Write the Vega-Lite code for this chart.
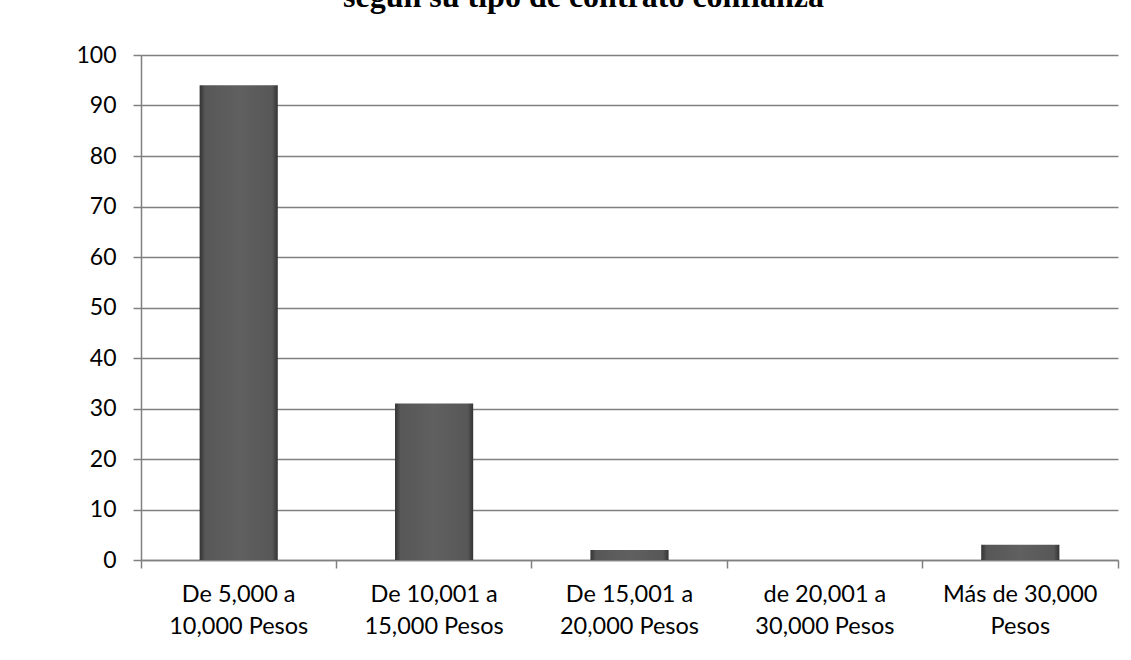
{
  "$schema": "https://vega.github.io/schema/vega-lite/v6.json",
  "autosize": {"type": "none"},
  "width": 977,
  "height": 505,
  "padding": {"top": 55, "left": 141, "right": 13, "bottom": 100},
  "background": "white",
  "title": {
    "text": "según su tipo de contrato confianza",
    "font": "Liberation Serif",
    "fontSize": 32,
    "fontWeight": "bold",
    "color": "black",
    "anchor": "middle",
    "frame": "group",
    "dx": -46,
    "baseline": "alphabetic",
    "offset": 5
  },
  "data": {
    "values": [
      {"rango": "De 5,000 a 10,000 Pesos", "valor": 94},
      {"rango": "De 10,001 a 15,000 Pesos", "valor": 31},
      {"rango": "De 15,001 a 20,000 Pesos", "valor": 2},
      {"rango": "de 20,001 a 30,000 Pesos", "valor": 0},
      {"rango": "Más de 30,000 Pesos", "valor": 3}
    ]
  },
  "resolve": {"axis": {"x": "independent"}},
  "layer": [
    {
      "mark": {
        "type": "bar",
        "width": {"band": 0.4},
        "color": {
          "gradient": "linear",
          "x1": 0, "x2": 1, "y1": 0, "y2": 0,
          "stops": [
            {"offset": 0, "color": "#333333"},
            {"offset": 0.07, "color": "#575757"},
            {"offset": 0.5, "color": "#606060"},
            {"offset": 0.93, "color": "#575757"},
            {"offset": 1, "color": "#333333"}
          ]
        }
      },
      "encoding": {
        "x": {
          "field": "rango",
          "type": "nominal",
          "sort": null,
          "scale": {"paddingInner": 0, "paddingOuter": 0},
          "axis": {
            "title": null,
            "orient": "bottom",
            "labelAngle": 0,
            "ticks": false,
            "domain": true,
            "domainColor": "#808080",
            "domainWidth": 1.5,
            "labelFont": "Lato",
            "labelFontSize": 23.5,
            "labelColor": "black",
            "labelLineHeight": 32,
            "labelPadding": 22,
            "labelLimit": 300,
            "labelExpr": "indexof(datum.value,' a ') > 0 ? [slice(datum.value,0,indexof(datum.value,' a ')+2), slice(datum.value,indexof(datum.value,' a ')+3)] : [slice(datum.value,0,lastindexof(datum.value,' ')), slice(datum.value,lastindexof(datum.value,' ')+1)]"
          }
        },
        "y": {
          "field": "valor",
          "type": "quantitative",
          "scale": {"domain": [0, 100], "nice": false},
          "axis": {
            "title": null,
            "values": [0, 10, 20, 30, 40, 50, 60, 70, 80, 90, 100],
            "grid": true,
            "gridColor": "#808080",
            "gridWidth": 1.5,
            "domain": true,
            "domainColor": "#808080",
            "domainWidth": 1.5,
            "ticks": true,
            "tickSize": 8,
            "tickColor": "#808080",
            "tickWidth": 1.5,
            "labelFont": "Lato",
            "labelFontSize": 23,
            "labelColor": "black",
            "labelPadding": 17
          }
        }
      }
    },
    {
      "mark": {"type": "bar", "opacity": 0},
      "encoding": {
        "x": {
          "field": "rango",
          "type": "nominal",
          "sort": null,
          "axis": {
            "title": null,
            "orient": "bottom",
            "labels": false,
            "domain": false,
            "grid": false,
            "ticks": true,
            "bandPosition": 0,
            "tickSize": 8,
            "tickColor": "#808080",
            "tickWidth": 1.5
          }
        },
        "y": {"field": "valor", "type": "quantitative"}
      }
    },
    {
      "mark": {"type": "bar", "opacity": 0},
      "encoding": {
        "x": {
          "field": "rango",
          "type": "nominal",
          "sort": null,
          "axis": {
            "title": null,
            "orient": "bottom",
            "labels": false,
            "domain": false,
            "grid": false,
            "ticks": true,
            "bandPosition": 1,
            "values": ["Más de 30,000 Pesos"],
            "tickSize": 8,
            "tickColor": "#808080",
            "tickWidth": 1.5
          }
        },
        "y": {"field": "valor", "type": "quantitative"}
      }
    }
  ],
  "config": {"view": {"stroke": null}}
}
